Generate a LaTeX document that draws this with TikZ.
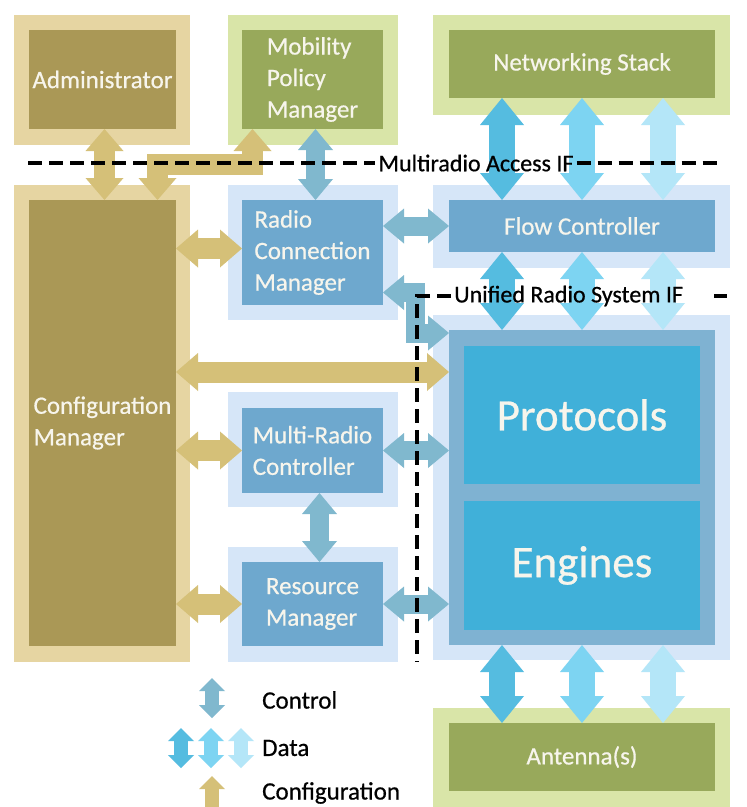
\documentclass[tikz,border=0pt]{standalone}
\usepackage{fontspec}
\setmainfont{Carlito}[FakeBold=0.6]
\usetikzlibrary{arrows.meta,calc}
\definecolor{tanL}{HTML}{E6D5A2}
\definecolor{tanD}{HTML}{AA9856}
\definecolor{greenL}{HTML}{D9E5A8}
\definecolor{greenD}{HTML}{98A95B}
\definecolor{blueL}{HTML}{D6E6F8}
\definecolor{blueM}{HTML}{6EA8CE}
\definecolor{blueB}{HTML}{7FB2D2}
\definecolor{cyanP}{HTML}{40B0D9}
\definecolor{ctrlC}{HTML}{80B8CE}
\definecolor{cfgC}{HTML}{D5C078}
\definecolor{dataA}{HTML}{55BCE0}
\definecolor{dataB}{HTML}{7DD4F2}
\definecolor{dataC}{HTML}{B4E6F8}
\definecolor{boxtext}{HTML}{F7F5EC}
\tikzset{
  box/.style={anchor=north west, inner sep=0pt, outer sep=0pt, draw=none},
  lbl/.style={text=boxtext, font=\fontsize{25}{31.5}\selectfont, align=left},
  big/.style={text=boxtext, font=\fontsize{45}{50}\selectfont},
  fat/.style={line width=#1, line join=miter, line cap=butt},
  cfgarrow/.style={fat=21pt, draw=cfgC,
    {Triangle[width=38pt,length=22pt,line width=0pt]}-{Triangle[width=38pt,length=22pt,line width=0pt]}},
  ctrlarrow/.style={fat=19pt, draw=ctrlC,
    {Triangle[width=35pt,length=21pt,line width=0pt]}-{Triangle[width=35pt,length=21pt,line width=0pt]}},
  dataarrow/.style={fat=26pt, draw=#1,
    {Triangle[width=44pt,length=27pt,line width=0pt]}-{Triangle[width=44pt,length=27pt,line width=0pt]}},
  legarrow/.style={fat=14pt, draw=#1,
    {Triangle[width=26pt,length=13pt,line width=0pt]}-{Triangle[width=26pt,length=13pt,line width=0pt]}},
  ifline/.style={draw=black, line width=3.2pt, dash pattern=on 14pt off 7pt},
  iftext/.style={text=black, font=\fontsize{24}{30}\selectfont, inner sep=3pt},
  legtext/.style={text=black, font=\fontsize{25}{30}\selectfont, anchor=west, inner sep=0pt},
}
\begin{document}
\begin{tikzpicture}[x=1pt,y=-1pt]
\useasboundingbox (0,0) rectangle (747,807);
\clip (0,0) rectangle (747,807);
\fill[white] (0,0) rectangle (747,807);

% outer boxes
\node[box, fill=tanL, minimum width=176pt, minimum height=130pt] (adminO) at (14,15) {};
\node[box, fill=greenL, minimum width=170pt, minimum height=130pt] (mobO) at (228,15) {};
\node[box, fill=greenL, minimum width=297pt, minimum height=100pt] (netO) at (433,15) {};
\node[box, fill=tanL, minimum width=176pt, minimum height=477pt] (confO) at (14,185) {};
\node[box, fill=blueL, minimum width=170pt, minimum height=135pt] (rcmO) at (228,185) {};
\node[box, fill=blueL, minimum width=297pt, minimum height=83pt] (flowO) at (433,185) {};
\node[box, fill=blueL, minimum width=297pt, minimum height=345pt] (peO) at (433,315) {};
\node[box, fill=blueL, minimum width=170pt, minimum height=115pt] (mrcO) at (228,392) {};
\node[box, fill=blueL, minimum width=170pt, minimum height=115pt] (rmO) at (228,547) {};
\node[box, fill=greenL, minimum width=297pt, minimum height=99pt] (antO) at (433,708) {};

% inner boxes
\node[box, lbl, fill=tanD, minimum width=147pt, minimum height=99pt] (adminI) at (29,30) {Administrator};
\node[box, lbl, fill=greenD, minimum width=141pt, minimum height=99pt] (mobI) at (242,30) {Mobility\\Policy\\Manager};
\node[box, lbl, fill=greenD, minimum width=266pt, minimum height=68pt] (netI) at (449,30) {Networking Stack};
\node[box, lbl, fill=tanD, minimum width=147pt, minimum height=446pt] (confI) at (29,200) {Configuration\\Manager};
\node[box, lbl, fill=blueM, minimum width=141pt, minimum height=105pt] (rcmI) at (242,200) {Radio\\Connection\\Manager};
\node[box, lbl, fill=blueM, minimum width=266pt, minimum height=52pt] (flowI) at (449,200) {Flow Controller};
\node[box, fill=blueB, minimum width=266pt, minimum height=315pt] (peM) at (449,330) {};
\node[box, big, fill=cyanP, minimum width=236pt, minimum height=138pt] (protI) at (464,346) {Protocols};
\node[box, big, fill=cyanP, minimum width=236pt, minimum height=129pt] (engI) at (464,501) {Engines};
\node[box, lbl, fill=blueM, minimum width=141pt, minimum height=85pt] (mrcI) at (242,408) {Multi-Radio\\Controller};
\node[box, lbl, fill=blueM, minimum width=141pt, minimum height=84pt] (rmI) at (242,562) {Resource\\Manager};
\node[box, lbl, fill=greenD, minimum width=266pt, minimum height=68pt] (antI) at (449,723) {Antenna(s)};

% configuration arrows
\draw[cfgarrow] ([xshift=2pt]adminI.south) -- ([xshift=2pt]confI.north);
\draw[cfgarrow] ([xshift=-60pt]mobI.south) -- ++(0,35) -| ([xshift=55pt]confI.north);
\draw[cfgarrow] ([yshift=4pt]rcmI.west -| confI.east) -- ([yshift=4pt]rcmI.west);
\coordinate (cp) at ([yshift=-42pt]peM.north west);
\draw[cfgarrow] (cp -| confI.east) -- (cp);
\draw[cfgarrow] (mrcI.west -| confI.east) -- (mrcI.west);
\draw[cfgarrow] (rmI.west -| confI.east) -- (rmI.west);

% control arrows
\draw[ctrlarrow] ([xshift=3pt]mobI.south) -- ([xshift=3pt]rcmI.north);
\draw[ctrlarrow] (flowI.west -| rcmI.east) -- (flowI.west);
\draw[ctrlarrow] ([yshift=-40pt]rcmI.east) -- ++(32,0) |- ([yshift=-3pt]peM.north west);
\draw[ctrlarrow] (mrcI.east) -- (mrcI.east -| peM.west);
\draw[ctrlarrow] (rmI.east) -- (rmI.east -| peM.west);
\draw[ctrlarrow] ([xshift=7pt]mrcI.south) -- ([xshift=7pt]rmI.north);

% data arrows
\foreach \dx/\c in {-80/dataA, 0/dataB, 81/dataC}{
  \draw[dataarrow=\c] ([xshift=\dx pt]netI.south) -- ([xshift=\dx pt]flowI.north);
  \draw[dataarrow=\c] ([xshift=\dx pt]flowI.south) -- ([xshift=\dx pt]peM.north);
  \draw[dataarrow=\c] ([xshift=\dx pt]peM.south) -- ([xshift=\dx pt]antI.north);
}

% interface lines
\node[iftext] (mra) at (476,163) {Multiradio Access IF};
\draw[ifline] (28,163) -- (mra.west);
\draw[ifline] (mra.east) -- (722,163);
\node[iftext, anchor=west] (urs) at (451,296) {Unified Radio System IF};
\draw[ifline] (urs.west) -- (417,296) -- (417,662);
\coordinate (ursE) at (714,296);
\draw[draw=black, line width=3.2pt] (ursE) -- ++(13,0);

% legend
\coordinate (lc1) at (212,678); \coordinate (lc2) at (212,718);
\draw[legarrow=ctrlC] (lc1) -- (lc2);
\foreach \lx/\c in {181/dataA, 211/dataB, 241/dataC}{
  \draw[legarrow=\c] (\lx,728) -- (\lx,768);
}
\coordinate (lg1) at (212,776); \coordinate (lg2) at (212,835);
\draw[legarrow=cfgC] (lg1) -- (lg2);
\node[legtext] (lgc) at (262,700) {Control};
\node[legtext] (lgd) at (262,748) {Data};
\node[legtext] (lgf) at (262,793) {Configuration};
\end{tikzpicture}
\end{document}
